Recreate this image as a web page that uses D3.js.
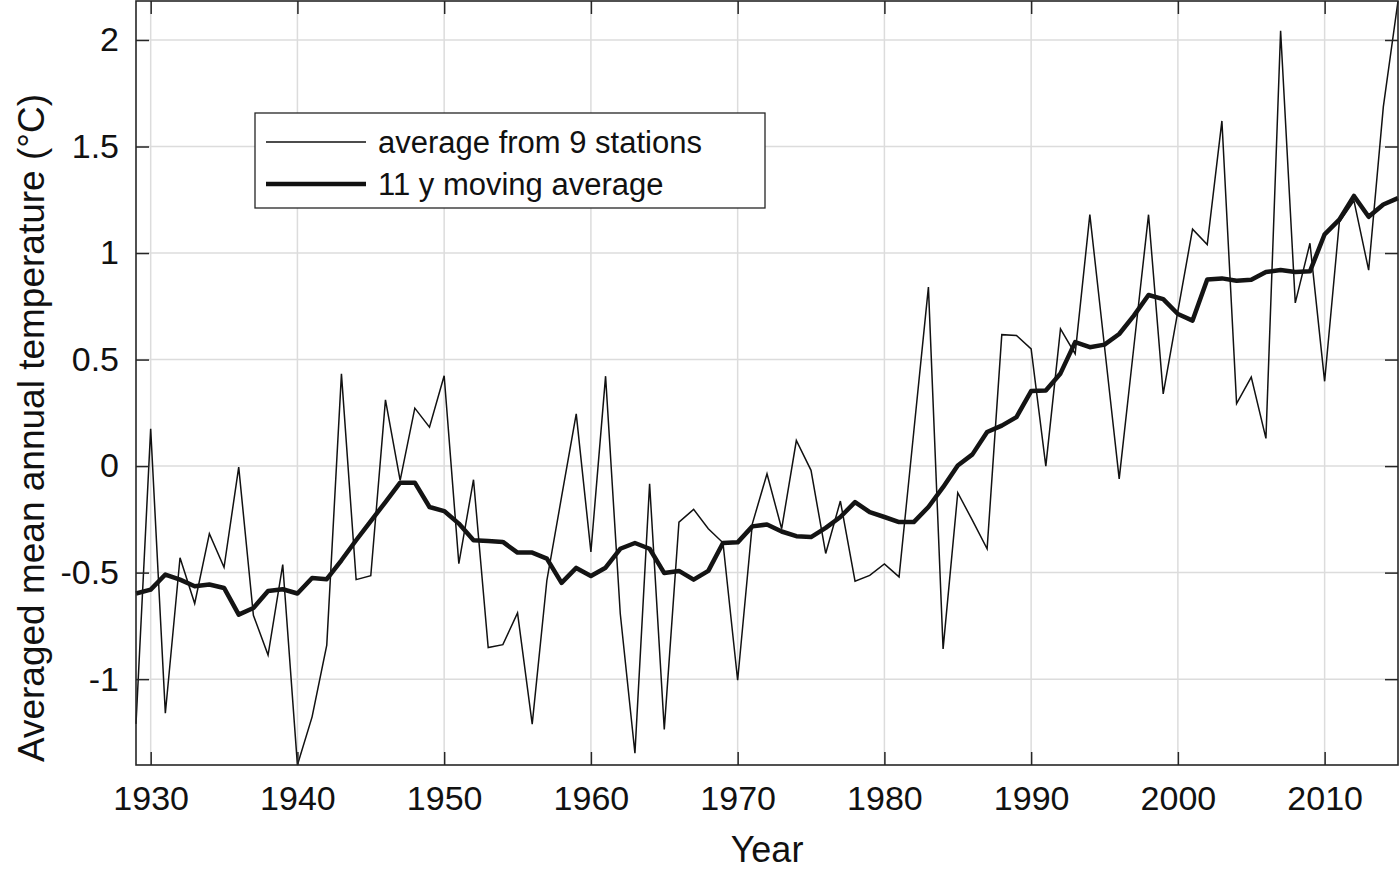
<!DOCTYPE html>
<html>
<head>
<meta charset="utf-8">
<script src="https://cdn.jsdelivr.net/npm/d3@7"></script>
<style>
  body { margin: 0; background: #fff; }
  svg { display: block; }
</style>
</head>
<body>
<div class="chart"></div>
<script>
var w = 1400;
var h = 872;

var years = d3.range(1929, 2016);

// average from 9 stations
var stationAvg = [
  -1.21, 0.175, -1.16, -0.43, -0.645, -0.317, -0.475, -0.005, -0.70, -0.887,
  -0.462, -1.403, -1.177, -0.84, 0.433, -0.533, -0.514, 0.311, -0.067, 0.272,
  0.183, 0.424, -0.458, -0.064, -0.852, -0.838, -0.689, -1.211, -0.536, -0.145,
  0.245, -0.403, 0.422, -0.692, -1.348, -0.083, -1.236, -0.263, -0.203, -0.294,
  -0.36, -1.005, -0.271, -0.036, -0.294, 0.12, -0.02, -0.41, -0.164, -0.54,
  -0.513, -0.459, -0.52, 0.16, 0.84, -0.858, -0.125, -0.255, -0.388, 0.617,
  0.613, 0.55, 0.0, 0.644, 0.527, 1.18, 0.56, -0.06, 0.56, 1.18,
  0.339, 0.727, 1.112, 1.04, 1.62, 0.293, 0.418, 0.13, 2.043, 0.766,
  1.046, 0.398, 1.144, 1.245, 0.92, 1.686, 2.183
];

// 11 y moving average
var movingAvg = [
  -0.598, -0.58, -0.509, -0.533, -0.564, -0.556, -0.572, -0.697, -0.666, -0.586,
  -0.578, -0.598, -0.525, -0.531, -0.442, -0.348, -0.258, -0.169, -0.078, -0.078,
  -0.192, -0.211, -0.27, -0.348, -0.352, -0.356, -0.406, -0.406, -0.434, -0.548,
  -0.478, -0.516, -0.477, -0.388, -0.361, -0.388, -0.502, -0.492, -0.533, -0.492,
  -0.361, -0.358, -0.283, -0.274, -0.307, -0.329, -0.333, -0.29, -0.239, -0.169,
  -0.216, -0.239, -0.263, -0.263, -0.192, -0.099, 0.003, 0.055, 0.16, 0.19,
  0.23, 0.352, 0.355, 0.435, 0.582, 0.558, 0.57, 0.62, 0.706, 0.803,
  0.784, 0.714, 0.683, 0.876, 0.881, 0.870, 0.875, 0.911, 0.92, 0.911,
  0.914, 1.088, 1.157, 1.268, 1.17, 1.228, 1.258
];

var xTicks = [1930, 1940, 1950, 1960, 1970, 1980, 1990, 2000, 2010];
var yTicks = [-1, -0.5, 0, 0.5, 1, 1.5, 2];
var yTickLabels = ["-1", "-0.5", "0", "0.5", "1", "1.5", "2"];

var seriesNames = ["average from 9 stations", "11 y moving average"];

// plot box (window.top is read-only, so no bare "top")
var pL = 136, pR = 1398, pT = 1, pB = 765;
var font = "'Liberation Sans', Arial, Helvetica, sans-serif";
var axisColor = "#262626";

var xScale = d3.scaleLinear()
               .domain(d3.extent(years))
               .range([pL, pR]);

var yScale = d3.scaleLinear()
               .domain(d3.extent(stationAvg))
               .range([pB, pT]);

var svg = d3.select(".chart")
            .append("svg")
            .attr("width", w)
            .attr("height", h);

// grid
svg.append("g")
    .selectAll("line")
    .data(xTicks)
    .enter()
    .append("line")
    .attr("x1", function (d) { return xScale(d); })
    .attr("x2", function (d) { return xScale(d); })
    .attr("y1", pT)
    .attr("y2", pB)
    .attr("stroke", "#dcdcdc")
    .attr("stroke-width", 1.5);

svg.append("g")
    .selectAll("line")
    .data(yTicks)
    .enter()
    .append("line")
    .attr("x1", pL)
    .attr("x2", pR)
    .attr("y1", function (d) { return yScale(d); })
    .attr("y2", function (d) { return yScale(d); })
    .attr("stroke", "#dcdcdc")
    .attr("stroke-width", 1.5);

// data lines
var line = function (vals) {
    return d3.line()
             .x(function (d, i) { return xScale(years[i]); })
             .y(function (d) { return yScale(d); })(vals);
};

svg.append("path")
    .attr("d", line(stationAvg))
    .attr("fill", "none")
    .attr("stroke", "#111")
    .attr("stroke-width", 1.5)
    .attr("stroke-linejoin", "miter");

svg.append("path")
    .attr("d", line(movingAvg))
    .attr("fill", "none")
    .attr("stroke", "#141414")
    .attr("stroke-width", 4.5)
    .attr("stroke-linejoin", "round");

// axes, ticks inside on all four sides
var tickLen = 13;

var xAxisB = d3.axisBottom(xScale).tickValues(xTicks).tickSizeInner(-tickLen).tickSizeOuter(0).tickPadding(21).tickFormat(d3.format("d"));
var xAxisT = d3.axisTop(xScale).tickValues(xTicks).tickSizeInner(-tickLen).tickSizeOuter(0).tickFormat("");
var yAxisL = d3.axisLeft(yScale).tickValues(yTicks).tickSizeInner(-tickLen).tickSizeOuter(0).tickPadding(17)
               .tickFormat(function (d, i) { return yTickLabels[i]; });
var yAxisR = d3.axisRight(yScale).tickValues(yTicks).tickSizeInner(-tickLen).tickSizeOuter(0).tickFormat("");

svg.append("g").attr("transform", "translate(0," + pB + ")").call(xAxisB);
svg.append("g").attr("transform", "translate(0," + pT + ")").call(xAxisT);
svg.append("g").attr("transform", "translate(" + pL + ",0)").call(yAxisL);
svg.append("g").attr("transform", "translate(" + pR + ",0)").call(yAxisR);

svg.selectAll(".domain").remove();
svg.selectAll(".tick line").attr("stroke", axisColor).attr("stroke-width", 1.5);
svg.selectAll(".tick text")
    .attr("font-family", font)
    .attr("font-size", "34px")
    .attr("fill", "#111");

// box
svg.append("rect")
    .attr("x", pL)
    .attr("y", pT)
    .attr("width", pR - pL)
    .attr("height", pB - pT)
    .attr("fill", "none")
    .attr("stroke", axisColor)
    .attr("stroke-width", 1.6);

// axis titles
svg.append("text")
    .text("Year")
    .attr("x", (pL + pR) / 2)
    .attr("y", 862)
    .attr("text-anchor", "middle")
    .attr("font-family", font)
    .attr("font-size", "36px")
    .attr("fill", "#111");

svg.append("text")
    .text("Averaged mean annual temperature (°C)")
    .attr("transform", "translate(44,428) rotate(-90)")
    .attr("text-anchor", "middle")
    .attr("font-family", font)
    .attr("font-size", "37px")
    .attr("fill", "#111");

// legend
var legend = svg.append("g").attr("transform", "translate(255,113)");

legend.append("rect")
    .attr("width", 510)
    .attr("height", 95)
    .attr("fill", "#fff")
    .attr("stroke", axisColor)
    .attr("stroke-width", 1.3);

legend.selectAll("line")
    .data(seriesNames)
    .enter()
    .append("line")
    .attr("x1", 11)
    .attr("x2", 111)
    .attr("y1", function (d, i) { return 29 + i * 42; })
    .attr("y2", function (d, i) { return 29 + i * 42; })
    .attr("stroke", "#111")
    .attr("stroke-width", function (d, i) { return i === 0 ? 1.5 : 4.5; });

legend.selectAll("text")
    .data(seriesNames)
    .enter()
    .append("text")
    .text(function (d) { return d; })
    .attr("x", 123)
    .attr("y", function (d, i) { return 40 + i * 42; })
    .attr("font-family", font)
    .attr("font-size", "31px")
    .attr("fill", "#111");
</script>
</body>
</html>
